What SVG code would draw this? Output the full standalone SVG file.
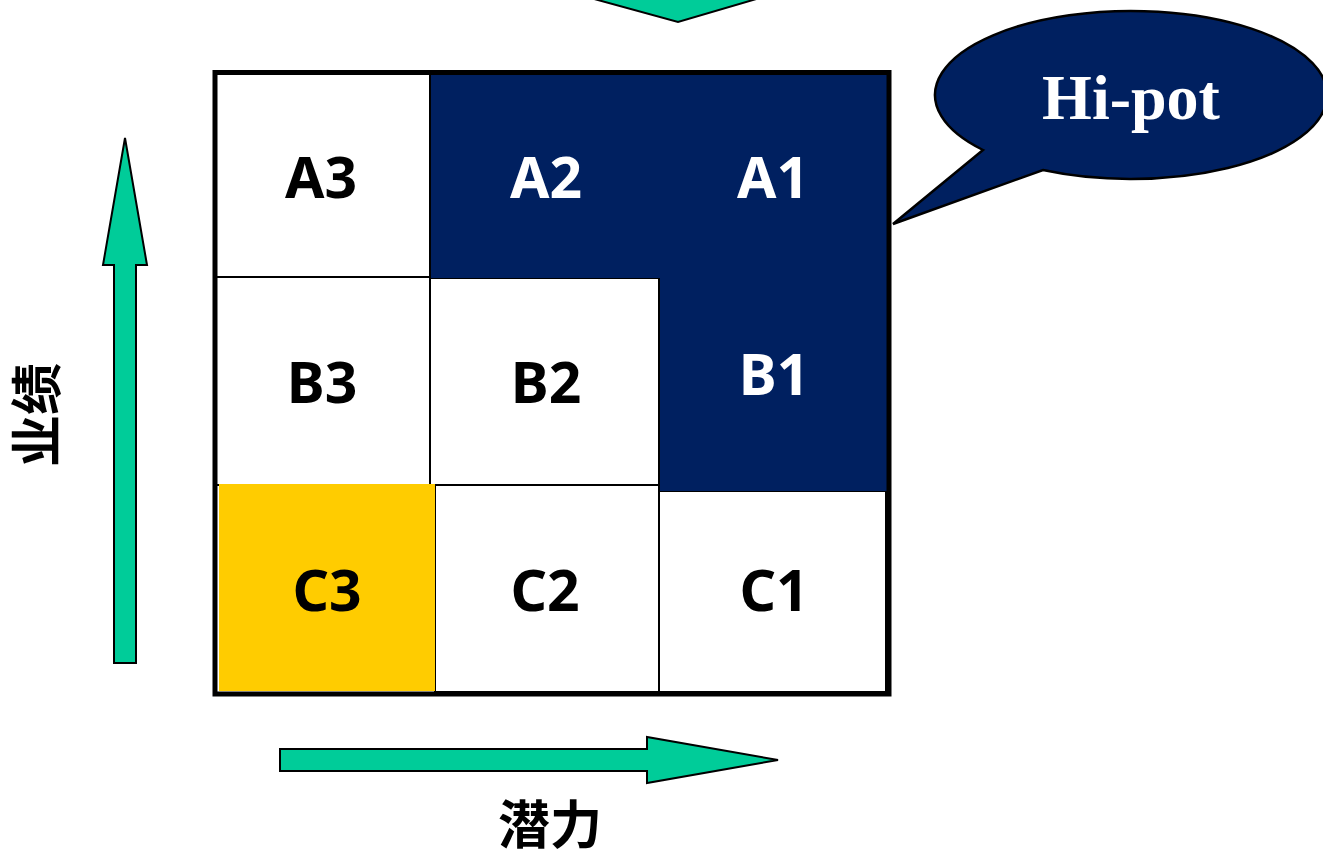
<svg xmlns="http://www.w3.org/2000/svg" width="1323" height="850" viewBox="0 0 1323 850">
<defs>
<style>
.cell{fill:#FFFFFF;stroke:#000000;stroke-width:2}
.navy{fill:#002060;stroke:none}
.lbl{font-family:"Noto Sans","Open Sans","DejaVu Sans",sans-serif;font-weight:bold;font-size:57px;text-anchor:middle}
.dark{fill:#000000}
.light{fill:#FFFFFF}
.arrow{fill:#00CC99;stroke:#000000;stroke-width:2;stroke-linejoin:miter}
.axis{font-family:"Noto Sans CJK SC","Noto Sans",sans-serif;font-weight:bold;font-size:52px;fill:#000000;text-anchor:middle}
</style>
</defs>
<rect x="0" y="0" width="1323" height="850" fill="#FFFFFF"/>

<g id="connectors">
  <polygon id="arrow-top" class="arrow" points="525,-20 678,22 821,-20"/>
  <polygon id="arrow-up" class="arrow" points="114,663 136,663 136,265 147,265 125,138 103,265 114,265"/>
  <polygon id="arrow-right" class="arrow" points="280,749 647,749 647,737 778,760 647,783 647,771 280,771"/>
</g>

<g id="grid">
  <g id="cell-A3"><rect class="cell" x="215" y="72" width="215" height="205"/><text class="lbl dark" x="321" y="198">A3</text></g>
  <g id="cell-B3"><rect class="cell" x="215" y="277" width="215" height="208"/><text class="lbl dark" x="322" y="403">B3</text></g>
  <g id="cell-B2"><rect class="cell" x="430" y="278" width="229" height="207"/><text class="lbl dark" x="546" y="403">B2</text></g>
  <g id="cell-C2"><rect class="cell" x="435" y="485" width="224" height="207"/><text class="lbl dark" x="545" y="611">C2</text></g>
  <g id="cell-C1"><rect class="cell" x="659" y="491" width="227" height="201"/><text class="lbl dark" x="774" y="611">C1</text></g>
  <g id="cell-C3"><rect x="219" y="484" width="216" height="207" fill="#FFCC00"/><text class="lbl dark" x="327" y="611">C3</text></g>
  <g id="hipot-region">
    <polygon class="navy" points="431,72 889,72 889,491 660,491 660,278 431,278"/>
    <text id="cell-A2" class="lbl light" x="546" y="198">A2</text>
    <text id="cell-A1" class="lbl light" x="773" y="198">A1</text>
    <text id="cell-B1" class="lbl light" x="774" y="395">B1</text>
  </g>
  <rect id="frame" x="215" y="72.5" width="674" height="621.5" fill="none" stroke="#000000" stroke-width="5"/>
</g>

<g id="callout">
  <path d="M983,150 L893,224 L1043,170 A196,84 0 1 0 983,150 Z" fill="#002060" stroke="#000000" stroke-width="2.5" stroke-linejoin="miter"/>
  <text x="1131" y="119" font-family="'Liberation Serif','Times New Roman',serif" font-weight="bold" font-size="64" fill="#FFFFFF" text-anchor="middle">Hi-pot</text>
</g>

<g id="axis-labels">
  <text id="label-y" class="axis" transform="translate(56,415) rotate(-90)" x="0" y="0">业绩</text>
  <text id="label-x" class="axis" x="550" y="844">潜力</text>
</g>
</svg>
